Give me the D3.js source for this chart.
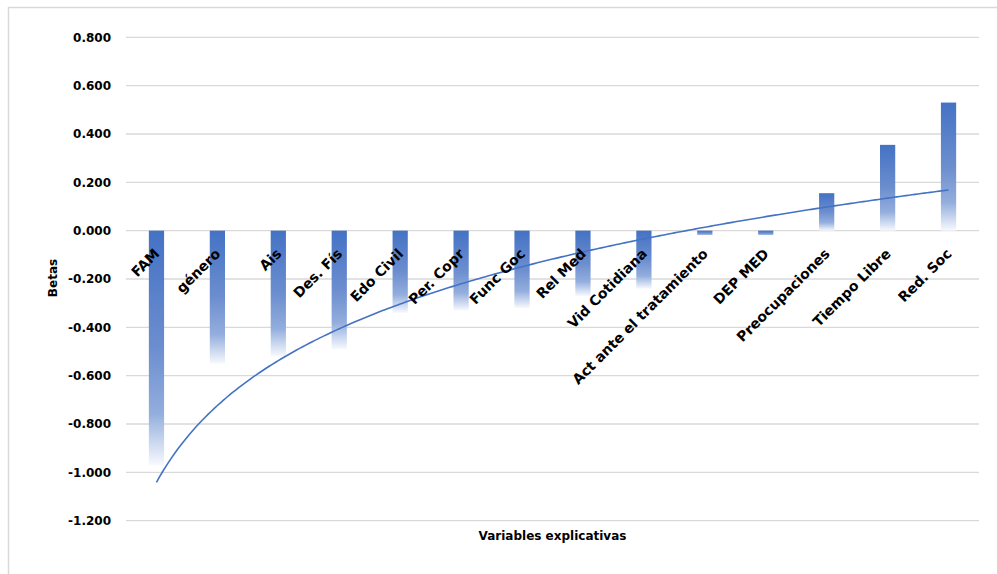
<!DOCTYPE html>
<html>
<head>
<meta charset="utf-8">
<script src="https://cdn.jsdelivr.net/npm/d3@7"></script>
<style>
  html, body { margin: 0; padding: 0; background: #ffffff; }
  svg { display: block; }
  text { font-family: "DejaVu Sans", sans-serif; font-weight: bold; fill: #000; }
</style>
</head>
<body>
<svg id="chart" width="997" height="574"></svg>
<script>
// Explanatory variables and their standardized coefficients (betas)
const categories = [
  "FAM", "género", "Ais", "Des. Fís", "Edo Civil", "Per. Copr", "Func Goc",
  "Rel Med", "Vid Cotidiana", "Act ante el tratamiento", "DEP MED",
  "Preocupaciones", "Tiempo Libre", "Red. Soc"
];
const betas = [
  -0.97, -0.55, -0.52, -0.49, -0.34, -0.33, -0.32,
  -0.27, -0.24, -0.02, -0.02, 0.155, 0.355, 0.53
];
const yTicks = [0.8, 0.6, 0.4, 0.2, 0, -0.2, -0.4, -0.6, -0.8, -1.0, -1.2];
const yTitle = "Betas";
const xTitle = "Variables explicativas";

const svg = d3.select("#chart");
const plot = { left: 126, right: 979, top: 37.3, bottom: 520.7 };

const x = d3.scaleBand()
  .domain(categories)
  .range([plot.left, plot.right])
  .paddingInner(0.75)
  .paddingOuter(0.375);

const y = d3.scaleLinear()
  .domain([-1.2, 0.8])
  .range([plot.bottom, plot.top]);

// Vertical fill: solid blue at the top of each bar fading to white at the bottom
const defs = svg.append("defs");
const grad = defs.append("linearGradient")
  .attr("id", "barFade")
  .attr("x1", 0).attr("y1", 0).attr("x2", 0).attr("y2", 1);
[[0, "#4472c4"], [0.5, "#6c8ecf"], [0.78, "#93aedd"], [1, "#f7f9fd"]]
  .forEach(([o, c]) => grad.append("stop").attr("offset", o).attr("stop-color", c));

// Chart area frame
svg.append("rect")
  .attr("x", 8.5).attr("y", 7.5)
  .attr("width", 1000).attr("height", 600)
  .attr("fill", "none")
  .attr("stroke", "#d9d9d9")
  .attr("stroke-width", 1.5);

// Horizontal gridlines
svg.append("g")
  .selectAll("line")
  .data(yTicks)
  .join("line")
  .attr("x1", plot.left).attr("x2", plot.right)
  .attr("y1", d => y(d)).attr("y2", d => y(d))
  .attr("stroke", "#d9d9d9")
  .attr("stroke-width", 1.3);

// Value axis labels (plain hyphen for negatives)
const fmt = d3.format(".3f");
const yAxis = d3.axisLeft(y)
  .tickValues(yTicks)
  .tickSize(0)
  .tickPadding(0)
  .tickFormat(d => fmt(d).replace("\u2212", "-"));
const yAxisG = svg.append("g")
  .attr("transform", `translate(111,0)`)
  .call(yAxis);
yAxisG.select(".domain").remove();
yAxisG.selectAll("text")
  .attr("font-family", "DejaVu Sans")
  .attr("font-weight", "bold")
  .attr("font-size", 12)
  .attr("fill", "#000");

// Bars
svg.append("g")
  .selectAll("rect")
  .data(categories.map((c, i) => ({ c, v: betas[i] })))
  .join("rect")
  .attr("x", d => x(d.c))
  .attr("width", x.bandwidth())
  .attr("y", d => y(Math.max(0, d.v)))
  .attr("height", d => Math.abs(y(d.v) - y(0)))
  .attr("fill", "url(#barFade)");

// Logarithmic trendline fitted to the betas: y = a ln(k) + b, k = 1..n
const ks = betas.map((_, i) => i + 1);
const lx = ks.map(k => Math.log(k));
const mx = d3.mean(lx), my = d3.mean(betas);
const a = d3.sum(lx, (l, i) => (l - mx) * (betas[i] - my)) / d3.sum(lx, l => (l - mx) ** 2);
const b = my - a * mx;

const kPos = d3.scaleLinear()
  .domain([1, categories.length])
  .range([x(categories[0]) + x.bandwidth() / 2,
          x(categories[categories.length - 1]) + x.bandwidth() / 2]);
const trendPts = d3.range(1, categories.length + 0.001, 0.05)
  .map(k => [kPos(k), y(a * Math.log(k) + b)]);
svg.append("path")
  .datum(trendPts)
  .attr("d", d3.line())
  .attr("fill", "none")
  .attr("stroke", "#4472c4")
  .attr("stroke-width", 1.6);

// Category labels, rotated 45°
svg.append("g")
  .selectAll("text")
  .data(categories)
  .join("text")
  .attr("transform", d => `translate(${x(d) + x.bandwidth() / 2 + 4},${y(0) + 24}) rotate(-45)`)
  .attr("text-anchor", "end")
  .attr("font-size", 14)
  .text(d => d);

// Axis titles
svg.append("text")
  .attr("transform", `translate(57,278) rotate(-90)`)
  .attr("text-anchor", "middle")
  .attr("font-size", 12)
  .text(yTitle);

svg.append("text")
  .attr("x", (plot.left + plot.right) / 2)
  .attr("y", 540)
  .attr("text-anchor", "middle")
  .attr("font-size", 12)
  .text(xTitle);
</script>
</body>
</html>
